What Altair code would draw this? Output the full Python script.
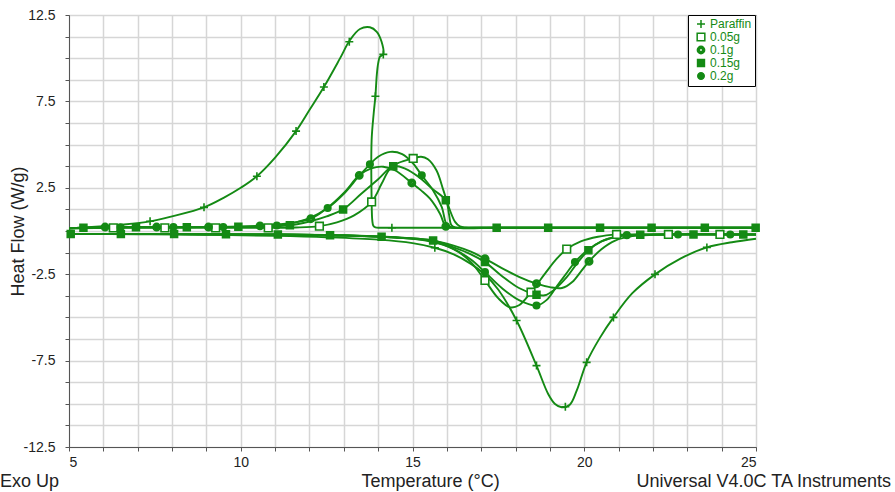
import altair as alt
import pandas as pd

GREEN = "#148a14"
FONT = "Liberation Sans"

SERIES = ["Paraffin", "0.05g", "0.1g", "0.15g", "0.2g"]
RING = ("M-1,0A1,1 0 1,0 1,0A1,1 0 1,0 -1,0Z"
        "M-0.45,0A0.45,0.45 0 1,1 0.45,0A0.45,0.45 0 1,1 -0.45,0Z")
SHAPES = ["M-1,0L1,0M0,-1L0,1", "square", RING, "square", "circle"]
FILLS = ["white", "white", GREEN, GREEN, GREEN]
SIZES = [64, 42, 40, 50, 30]

X_TICKS = list(range(5, 26))
Y_TICKS = [12.5, 11.25, 10, 8.75, 7.5, 6.25, 5, 3.75, 2.5, 1.25, 0, -1.25, -2.5,
           -3.75, -5, -6.25, -7.5, -8.75, -10, -11.25, -12.5]

# ---------------- Paraffin ----------------
par_cool_T = [25, 22, 19, 16.5, 15, 14.4, 14.05, 13.92, 13.86, 13.83, 13.81, 13.81, 13.87,
              13.92, 13.96, 14.0, 14.05, 14.15, 14.1, 13.96, 13.76, 13.47, 13.18, 12.89,
              12.42, 12.0, 11.61, 11.0, 10.47, 10.0, 9.5, 8.93, 8.0, 7.36, 6.5, 6.0, 5.0]
par_cool_HF = [0.19, 0.19, 0.19, 0.19, 0.19, 0.19, 0.19, 0.21, 0.3, 0.6, 1.8, 5.25, 6.8,
               7.8, 9.02, 9.7, 10.08, 10.24, 10.95, 11.53, 11.79, 11.69, 11.05, 9.99,
               8.33, 7.0, 5.78, 4.25, 3.17, 2.5, 1.92, 1.37, 0.85, 0.56, 0.36, 0.28, 0.15]
par_heat_T = [5, 7, 9, 11, 12.5, 14, 15, 15.65, 16.2, 16.7, 17.1, 17.5, 18.03, 18.61, 18.95,
              19.15, 19.34, 19.58, 19.78, 20.07, 20.45, 20.85, 21.4, 22.06, 22.8, 23.57,
              24.3, 25]
par_heat_HF = [-0.17, -0.19, -0.22, -0.28, -0.36, -0.5, -0.7, -0.97, -1.35, -1.9, -2.5, -3.4,
               -5.18, -7.79, -9.43, -10.01, -10.2, -10.05, -9.24, -7.6, -6.2, -5.0, -3.6,
               -2.51, -1.6, -0.95, -0.65, -0.45]
par_mk_T = [7.36, 8.93, 10.47, 11.61, 12.42, 13.16, 14.15, 13.92, 14.4,
            15.65, 18.03, 18.61, 19.45, 20.07, 20.85, 22.06, 23.57]
par_mk_HF = [0.56, 1.37, 3.17, 5.78, 8.33, 10.95, 10.22, 7.8, 0.19,
             -0.97, -5.18, -7.79, -10.17, -7.6, -5.0, -2.51, -0.95]

# ---------------- 0.05g ----------------
g005_cool_T = [5, 6.3, 7.8, 9.3, 10.8, 11.6, 12.29, 12.8, 13.3, 13.81, 14.1, 14.34, 14.6,
               15.02, 15.25, 15.45, 15.7, 15.9, 16.09, 16.24, 16.38, 16.55, 17, 20, 25]
g005_cool_HF = [0.15, 0.18, 0.18, 0.18, 0.18, 0.2, 0.28, 0.5, 0.9, 1.68, 2.73, 3.6, 3.95,
                4.2, 4.3, 4.15, 3.5, 2.35, 1.2, 0.53, 0.27, 0.2, 0.19, 0.19, 0.19]
g005_heat_T = [5, 8, 11, 13, 14.5, 15.5, 16.2, 16.7, 17.11, 17.5, 17.84, 18.1, 18.45, 18.9,
               19.2, 19.49, 19.9, 20.4, 20.94, 22, 25]
g005_heat_HF = [-0.17, -0.18, -0.2, -0.26, -0.38, -0.6, -1.05, -1.8, -2.86, -3.9, -4.42,
                -4.3, -3.54, -2.35, -1.6, -1.05, -0.6, -0.33, -0.21, -0.2, -0.2]
g005_mk_T = [6.29, 7.79, 9.27, 10.8, 12.29, 13.81, 15.02,
             17.11, 18.45, 19.49, 20.94, 22.45, 23.95]
g005_mk_HF = [0.18, 0.18, 0.18, 0.18, 0.28, 1.68, 4.2,
              -2.86, -3.54, -1.05, -0.2, -0.2, -0.2]

# ---------------- 0.1g ----------------
g01_cool_T = [5, 6.05, 7.55, 9.06, 10.56, 11.3, 12.04, 12.5, 13.0, 13.45, 13.8, 14.15, 14.5,
              14.98, 15.25, 15.51, 15.8, 15.97, 16.15, 17, 20, 25]
g01_cool_HF = [0.15, 0.23, 0.23, 0.23, 0.3, 0.42, 0.71, 1.3, 2.2, 3.22, 3.62, 3.72, 3.5,
               2.78, 2.35, 1.87, 1.0, 0.27, 0.2, 0.19, 0.19, 0.19]
g01_heat_T = [5, 8, 11, 13, 14.5, 15.5, 16.2, 16.7, 17.11, 17.6, 18.1, 18.61, 19.0, 19.35,
              19.65, 19.9, 20.14, 20.5, 20.9, 21.4, 22, 25]
g01_heat_HF = [-0.17, -0.18, -0.2, -0.25, -0.36, -0.52, -0.85, -1.2, -1.6, -2.15, -2.65,
               -3.05, -3.25, -3.3, -2.95, -2.35, -1.76, -1.05, -0.55, -0.3, -0.22, -0.2]
g01_mk_T = [6.05, 7.55, 9.06, 10.56, 12.04, 13.45, 14.98, 15.97, 17.11, 18.61, 20.14]
g01_mk_HF = [0.23, 0.23, 0.23, 0.3, 0.71, 3.22, 2.78, 0.27, -1.6, -3.05, -1.76]

# ---------------- 0.15g ----------------
g015_cool_T = [5, 5.42, 6.95, 8.43, 9.93, 11.43, 12.0, 12.5, 12.98, 13.5, 14.0, 14.44, 14.8,
               15.2, 15.6, 15.97, 16.06, 16.13, 16.25, 17.45, 18.95, 20.46, 21.96, 23.51, 25]
g015_cool_HF = [0.15, 0.19, 0.22, 0.22, 0.24, 0.33, 0.55, 0.85, 1.25, 2.14, 3.0, 3.75, 3.6,
                3.1, 2.4, 1.78, 1.0, 0.35, 0.2, 0.19, 0.19, 0.19, 0.19, 0.19, 0.19]
g015_heat_T = [5, 8, 11, 13, 14.5, 15.6, 16.2, 16.7, 17.11, 17.6, 18.1, 18.61, 18.85, 19.1,
               19.49, 19.78, 20.12, 20.5, 21.0, 21.63, 25]
g015_heat_HF = [-0.17, -0.18, -0.2, -0.26, -0.37, -0.55, -0.95, -1.35, -1.8, -2.6, -3.3,
                -3.69, -3.72, -3.44, -2.67, -1.9, -1.12, -0.6, -0.32, -0.22, -0.2]
g015_mk_T = [5.42, 6.95, 8.43, 9.93, 11.43, 12.98, 14.44, 15.97, 17.45, 18.95, 20.46, 21.96,
             23.51, 24.99, 5.05, 6.51, 8.06, 9.57, 11.08, 12.6, 14.1, 15.6, 17.11, 18.61,
             20.12, 21.63, 23.18, 24.63]
g015_mk_HF = [0.19, 0.22, 0.22, 0.24, 0.33, 1.25, 3.75, 1.78, 0.19, 0.19, 0.19, 0.19,
              0.19, 0.19, -0.17, -0.18, -0.18, -0.19, -0.2, -0.25, -0.33, -0.55, -1.8, -3.69,
              -1.12, -0.22, -0.2, -0.2]

# ---------------- 0.2g ----------------
g02_cool_T = [5, 6.5, 8.04, 9.49, 11.05, 11.6, 12.0, 12.53, 13.0, 13.45, 13.76, 14.0, 14.35,
              14.7, 15.0, 15.27, 15.6, 15.85, 16.0, 16.15, 17, 20, 25]
g02_cool_HF = [0.15, 0.22, 0.23, 0.23, 0.32, 0.5, 0.75, 1.33, 2.15, 3.2, 3.86, 4.3, 4.58,
               4.45, 3.95, 3.22, 2.35, 1.4, 0.35, 0.2, 0.19, 0.19, 0.19]
g02_heat_T = [5, 8, 11, 13, 14.5, 15.6, 16.2, 16.7, 17.11, 17.6, 18.1, 18.61, 18.9, 19.2,
              19.5, 19.73, 20.1, 20.5, 21.0, 21.5, 25]
g02_heat_HF = [-0.17, -0.18, -0.2, -0.26, -0.38, -0.6, -1.05, -1.65, -2.38, -3.3, -4.0,
               -4.31, -4.0, -3.2, -2.4, -1.8, -1.1, -0.6, -0.3, -0.22, -0.2]
g02_mk_T = [6.5, 8.04, 9.49, 11.05, 12.53, 13.76, 15.27, 17.11, 18.61, 19.73, 21.24, 22.73,
            24.25]
g02_mk_HF = [0.22, 0.23, 0.23, 0.32, 1.33, 3.86, 3.22, -2.38, -4.31, -1.8, -0.24, -0.2, -0.2]

curves = {
    "Paraffin": [(par_cool_T, par_cool_HF), (par_heat_T, par_heat_HF)],
    "0.05g": [(g005_cool_T, g005_cool_HF), (g005_heat_T, g005_heat_HF)],
    "0.1g": [(g01_cool_T, g01_cool_HF), (g01_heat_T, g01_heat_HF)],
    "0.15g": [(g015_cool_T, g015_cool_HF), (g015_heat_T, g015_heat_HF)],
    "0.2g": [(g02_cool_T, g02_cool_HF), (g02_heat_T, g02_heat_HF)],
}
markers = {
    "Paraffin": (par_mk_T, par_mk_HF),
    "0.05g": (g005_mk_T, g005_mk_HF),
    "0.1g": (g01_mk_T, g01_mk_HF),
    "0.15g": (g015_mk_T, g015_mk_HF),
    "0.2g": (g02_mk_T, g02_mk_HF),
}

line_rows = []
for s, segs in curves.items():
    for k, (ts, hs) in enumerate(segs):
        for i, (t, h) in enumerate(zip(ts, hs)):
            line_rows.append({"series": s, "key": f"{s}-{k}", "i": i, "T": t, "HF": h})
line_df = pd.DataFrame(line_rows)

mk_rows = []
for s, (ts, hs) in markers.items():
    for t, h in zip(ts, hs):
        mk_rows.append({"series": s, "T": t, "HF": h})
mk_df = pd.DataFrame(mk_rows)

xs = alt.Scale(domain=[5, 25], nice=False, zero=False)
ys = alt.Scale(domain=[-12.5, 12.5], nice=False, zero=False)

x_axis = alt.Axis(values=X_TICKS, labelExpr="datum.value % 5 == 0 ? datum.label : ''",
                  title="Temperature (°C)", titleX=361, titleY=25, titleBaseline="top",
                  titleAnchor="middle", labelPadding=4, tickSize=4)
y_axis = alt.Axis(values=Y_TICKS,
                  labelExpr="(datum.value + 12.5) % 5 == 0 ? ((datum.value < 0 ? '-' : '') + format(abs(datum.value), '.1f')) : ''",
                  title="Heat Flow (W/g)", labelPadding=10, tickSize=4,
                  titleX=-51, titleBaseline="middle")

X = alt.X("T:Q", scale=xs, axis=x_axis)
Y = alt.Y("HF:Q", scale=ys, axis=y_axis)

lines = alt.Chart(line_df).mark_line(color=GREEN, strokeWidth=1.9, interpolate="catmull-rom").encode(
    x=X, y=Y, detail="key:N", order="i:Q")

leg = alt.Legend(orient="none", legendX=619, legendY=0, strokeColor="black", fillColor="white",
                 padding=3, labelColor=GREEN, labelFontSize=12, labelFont=FONT,
                 symbolStrokeWidth=1.5, rowPadding=-2, labelOffset=3, symbolOffset=4,
                 cornerRadius=0, labelExpr="datum.label + '\u00a0\u00a0'")

points = alt.Chart(mk_df).mark_point(strokeWidth=1.6, opacity=1).encode(
    x=X, y=Y,
    shape=alt.Shape("series:N", title=None, scale=alt.Scale(domain=SERIES, range=SHAPES), legend=leg),
    fill=alt.Fill("series:N", title=None, scale=alt.Scale(domain=SERIES, range=FILLS), legend=leg),
    stroke=alt.Stroke("series:N", title=None, scale=alt.Scale(domain=SERIES, range=[GREEN] * 5), legend=leg),
    size=alt.Size("series:N", title=None, scale=alt.Scale(domain=SERIES, range=SIZES), legend=leg),
)

note_left = alt.Chart(pd.DataFrame({"t": ["Exo Up"]})).mark_text(
    align="left", baseline="alphabetic", font=FONT, fontSize=18, color="#222").encode(
    text="t:N", x=alt.value(-69), y=alt.value(472))
note_right = alt.Chart(pd.DataFrame({"t": ["Universal V4.0C TA Instruments"]})).mark_text(
    align="right", baseline="alphabetic", font=FONT, fontSize=18, color="#222").encode(
    text="t:N", x=alt.value(822), y=alt.value(472))

chart = alt.layer(lines, points, note_left, note_right).properties(
    width=687, height=432,
    autosize=alt.AutoSizeParams(type="none"),
    padding={"left": 69, "top": 15, "right": 139, "bottom": 45},
).configure_view(stroke="black", strokeWidth=1).configure_axis(
    domainColor="#555", tickColor="#555", gridColor="#d6d6d6", gridWidth=1.5,
    labelColor="#222", labelFont=FONT, labelFontSize=14, titleFont=FONT,
    titleFontSize=18, titleFontWeight="normal", titleColor="#222",
)

chart.save("out.html", embed_options={"renderer": "svg", "actions": False})
